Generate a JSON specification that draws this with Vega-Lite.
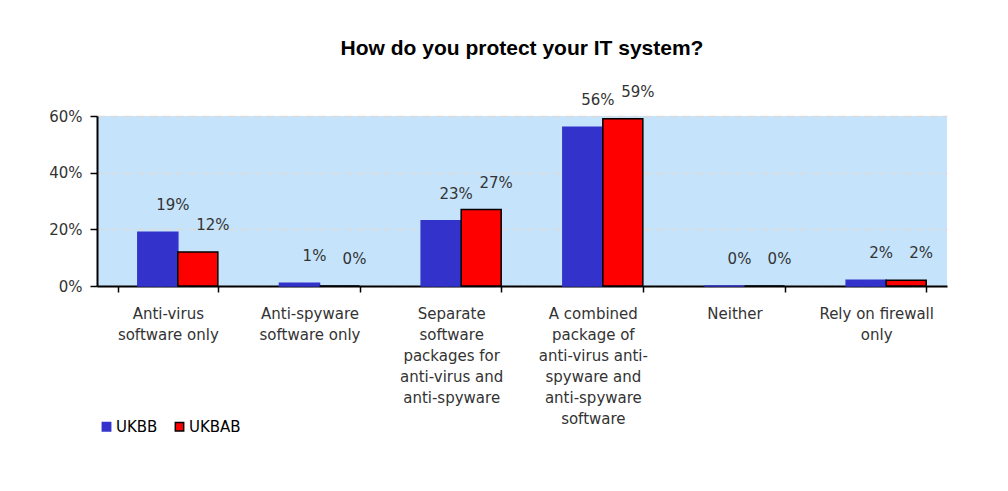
{
  "$schema": "https://vega.github.io/schema/vega-lite/v6.json",
  "autosize": "none",
  "width": 850,
  "height": 170,
  "padding": {"left": 97, "top": 116, "right": 61, "bottom": 205},
  "background": "white",
  "title": {
    "text": "How do you protect your IT system?",
    "font": "Liberation Sans",
    "fontSize": 21,
    "fontWeight": "bold",
    "color": "#000000",
    "anchor": "middle",
    "offset": 26
  },
  "data": {
    "values": [
      {"category": "Anti-virus\nsoftware only", "series": "UKBB", "value": 0.19},
      {"category": "Anti-virus\nsoftware only", "series": "UKBAB", "value": 0.12},
      {"category": "Anti-spyware\nsoftware only", "series": "UKBB", "value": 0.01},
      {"category": "Anti-spyware\nsoftware only", "series": "UKBAB", "value": 0.0},
      {"category": "Separate\nsoftware\npackages for\nanti-virus and\nanti-spyware", "series": "UKBB", "value": 0.23},
      {"category": "Separate\nsoftware\npackages for\nanti-virus and\nanti-spyware", "series": "UKBAB", "value": 0.27},
      {"category": "A combined\npackage of\nanti-virus anti-\nspyware and\nanti-spyware\nsoftware", "series": "UKBB", "value": 0.56},
      {"category": "A combined\npackage of\nanti-virus anti-\nspyware and\nanti-spyware\nsoftware", "series": "UKBAB", "value": 0.59},
      {"category": "Neither", "series": "UKBB", "value": 0.0},
      {"category": "Neither", "series": "UKBAB", "value": 0.0},
      {"category": "Rely on firewall\nonly", "series": "UKBB", "value": 0.02},
      {"category": "Rely on firewall\nonly", "series": "UKBAB", "value": 0.02}
    ]
  },
  "encoding": {
    "x": {
      "field": "category",
      "type": "nominal",
      "sort": null,
      "scale": {"paddingInner": 0.294, "paddingOuter": 0.147},
      "axis": {
        "title": null,
        "labelAngle": 0,
        "labelExpr": "split(datum.label, '\\n')",
        "labelFont": "DejaVu Sans",
        "labelFontSize": 15,
        "labelColor": "#333333",
        "labelLineHeight": 21,
        "labelPadding": 14,
        "labelBaseline": "top",
        "tickBand": "extent",
        "tickOffset": -21,
        "tickColor": "#000000",
        "tickSize": 6,
        "tickWidth": 1.5,
        "domainColor": "#000000",
        "domainWidth": 2
      }
    },
    "xOffset": {
      "field": "series",
      "type": "nominal",
      "sort": ["UKBB", "UKBAB"],
      "scale": {"paddingInner": 0, "paddingOuter": 0.25, "align": 1}
    }
  },
  "layer": [
    {
      "mark": {"type": "bar", "strokeWidth": 1.5},
      "encoding": {
        "y": {
          "field": "value",
          "type": "quantitative",
          "scale": {"domain": [0, 0.6], "nice": false},
          "axis": {
            "title": null,
            "values": [0, 0.2, 0.4, 0.6],
            "format": ".0%",
            "labelFont": "DejaVu Sans",
            "labelFontSize": 15,
            "labelColor": "#333333",
            "labelPadding": 8,
            "tickColor": "#000000",
            "tickSize": 7,
            "tickWidth": 1.5,
            "domainColor": "#000000",
            "domainWidth": 2,
            "grid": true,
            "gridColor": "#DCDCDC",
            "gridDash": [8, 5],
            "gridWidth": 1.5
          }
        },
        "fill": {
          "field": "series",
          "type": "nominal",
          "sort": ["UKBB", "UKBAB"],
          "scale": {"domain": ["UKBB", "UKBAB"], "range": ["#3333CC", "#FF0000"]},
          "legend": {
            "title": null,
            "orient": "none",
            "legendX": 2,
            "legendY": 303,
            "direction": "horizontal",
            "symbolType": "square",
            "symbolSize": 70,
            "symbolStrokeWidth": 1.5,
            "labelFont": "DejaVu Sans",
            "labelFontSize": 15,
            "labelColor": "#000000",
            "labelOffset": 2,
            "columnPadding": 14
          }
        },
        "stroke": {
          "field": "series",
          "type": "nominal",
          "sort": ["UKBB", "UKBAB"],
          "scale": {"domain": ["UKBB", "UKBAB"], "range": ["#3333CC", "#000000"]},
          "legend": {
            "title": null,
            "orient": "none",
            "legendX": 2,
            "legendY": 303,
            "direction": "horizontal"
          }
        }
      }
    },
    {
      "mark": {"type": "text", "baseline": "bottom", "dx": 15, "dy": -19, "font": "DejaVu Sans", "fontSize": 15, "color": "#333333"},
      "encoding": {
        "y": {"field": "value", "type": "quantitative"},
        "text": {"field": "value", "type": "quantitative", "format": ".0%"},
        "detail": {"field": "series"}
      }
    }
  ],
  "config": {
    "view": {"fill": "#C5E3FB", "stroke": null}
  }
}
